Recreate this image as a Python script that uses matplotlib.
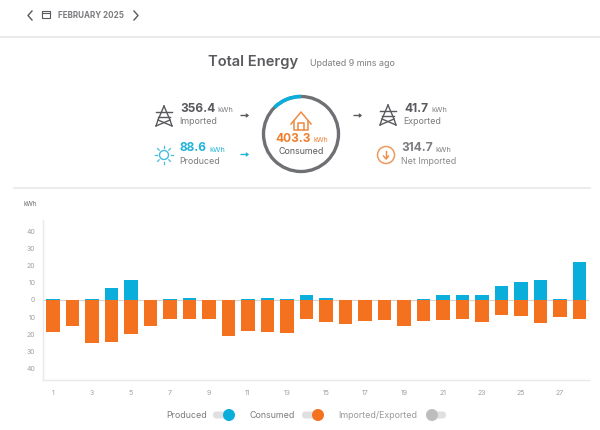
import matplotlib
matplotlib.use('Agg')
import numpy as np
import matplotlib.pyplot as plt
from matplotlib.patches import Arc, Circle, FancyBboxPatch, Rectangle

days = list(range(1, 29))
consumed = [18.9, 15, 25, 24.4, 19.7, 15, 10.9, 11.3, 10.9, 21, 18.3, 18.9, 19.3, 10.9,
            12.7, 14.2, 12.3, 11.7, 15.4, 12.3, 11.7, 11.3, 12.7, 9, 9.4, 13.3, 9.9, 11.3]
produced = [0.3, 0, 0.5, 6.8, 11.7, 0.2, 0.5, 1.2, 0.1, 0, 0.5, 1, 0.3, 2.9,
            1.4, 0, 0, 0, 0, 0.4, 2.9, 2.9, 2.9, 8.4, 10.3, 11.7, 0.6, 22.4]
y_ticks = [-40, -30, -20, -10, 0, 10, 20, 30, 40]
y_labels = ['40', '30', '20', '10', '0', '10', '20', '30', '40']
x_ticks = list(range(1, 28, 2))

BLUE = '#0aaedb'
ORANGE = '#f4711f'
DARK = '#5a5a5e'
GREY = '#7c7c80'
LIGHT = '#e9e9e9'
W, H = 600, 430

plt.rcParams['font.family'] = ['Inter', 'DejaVu Sans']
fig = plt.figure(figsize=(6, 4.3), dpi=100, facecolor='white')

# page layer in pixel coordinates for the header and icons
ui = fig.add_axes([0, 0, 1, 1])
ui.set_xlim(0, W)
ui.set_ylim(H, 0)
ui.axis('off')


def txt(x, y, s, size, color=DARK, weight='normal', ha='left', **kw):
    ui.text(x, y, s, fontsize=size, color=color, fontweight=weight, ha=ha, va='center', **kw)


def pylon(cx, cy, color=DARK):
    # small transmission tower
    lw = 1.0
    ui.plot([cx, cx - 6, cx - 8], [cy - 10, cy + 4, cy + 10], color=color, lw=lw)
    ui.plot([cx, cx + 6, cx + 8], [cy - 10, cy + 4, cy + 10], color=color, lw=lw)
    ui.plot([cx - 8, cx + 8], [cy - 4, cy - 4], color=color, lw=lw)
    ui.plot([cx - 6, cx + 6], [cy + 1, cy + 1], color=color, lw=lw)
    ui.plot([cx - 6, cx + 8], [cy + 4, cy + 10], color=color, lw=lw)
    ui.plot([cx + 6, cx - 8], [cy + 4, cy + 10], color=color, lw=lw)


def arrow(x, y, color):
    ui.annotate('', xy=(x + 8, y), xytext=(x, y),
                arrowprops=dict(arrowstyle='->,head_length=0.12,head_width=0.1', color=color, lw=1.0,
                                shrinkA=0, shrinkB=0))


def toggle(x, y, color, on=True):
    ui.add_patch(FancyBboxPatch((x, y - 3.5), 20, 7, boxstyle='round,pad=0,rounding_size=3.5',
                                fc='#e0e0e0', ec='none'))
    ui.add_patch(Circle((x + 16 if on else x + 6, y), 6, fc=color, ec='none'))


# top navigation
ui.plot([32, 28, 32], [11, 15.5, 20], color=DARK, lw=1.0)
ui.plot([134, 138, 134], [11, 15.5, 20], color=DARK, lw=1.0)
ui.add_patch(Rectangle((41.5, 10.5), 8, 7.5, fc='none', ec=DARK, lw=0.8))
ui.plot([41.5, 49.5], [12.8, 12.8], color=DARK, lw=0.8)
txt(58.5, 15.7, 'FEBRUARY 2025', 5.8, color=GREY, weight='bold')
ui.plot([0, W], [36.5, 36.5], color=LIGHT, lw=1.5)

# title row
txt(208, 62, 'Total Energy', 10.6, color=DARK, weight='semibold')
txt(310, 64, 'Updated 9 mins ago', 6.4, color=GREY)

# left figures
pylon(164, 116)
txt(180, 108.5, '356.4', 8.6, weight='bold')
txt(217, 110, 'kWh', 5.3, color=GREY)
txt(179.5, 121, 'Imported', 6.4, color=GREY)
arrow(241, 115.5, DARK)

ui.add_patch(Circle((164, 155), 4.5, fc='none', ec='#45bedd', lw=1.0))
for a in np.arange(0, 360, 45):
    ca, sa = np.cos(np.radians(a)), np.sin(np.radians(a))
    ui.plot([164 + 6.8 * ca, 164 + 9 * ca], [155 + 6.8 * sa, 155 + 9 * sa], color='#45bedd', lw=0.9)
txt(180, 148, '88.6', 8.6, color='#22b3d9', weight='bold')
txt(209, 149.5, 'kWh', 5.3, color='#22b3d9')
txt(179.5, 161, 'Produced', 6.4, color=GREY)
arrow(241, 154.5, '#22b3d9')

# consumed ring, drawn with y pointing down so the angles run clockwise
ui.add_patch(Circle((301, 134), 37.5, fc='none', ec='#6f7073', lw=2.4))
ui.add_patch(Arc((301, 134), 75, 75, theta1=225, theta2=270, ec=BLUE, lw=2.6))
ui.plot([291, 301, 311], [124, 112, 124], color='#ee8a43', lw=1.1)
ui.plot([294, 294, 308, 308], [121, 130, 130, 121], color='#ee8a43', lw=1.1)
ui.plot([298, 298, 304, 304], [130, 123, 123, 130], color='#ee8a43', lw=1.1)
txt(275, 138.5, '403.3', 8.6, color='#ee7f30', weight='bold')
txt(313, 139.5, 'kWh', 5, color='#ee7f30')
txt(278.5, 151, 'Consumed', 6.4)

# right figures
arrow(354, 115.5, DARK)
pylon(388, 115)
txt(404, 108.5, '41.7', 8.6, weight='bold')
txt(431, 110, 'kWh', 5.3, color=GREY)
txt(403.5, 121, 'Exported', 6.4, color=GREY)
ui.add_patch(Circle((386, 155), 8.5, fc='none', ec='#ee9a5c', lw=1.1))
ui.plot([386, 386], [151, 158], color='#ee8a43', lw=1.0)
ui.plot([383.5, 386, 388.5], [156, 159, 156], color='#ee8a43', lw=1.0)
txt(401, 148, '314.7', 8.6, color=GREY, weight='bold')
txt(435, 149.5, 'kWh', 5.3, color=GREY)
txt(401, 161, 'Net Imported', 6.4, color='#8b8b8f')
ui.plot([14, 590], [187.5, 187.5], color=LIGHT, lw=1.2)

# bar chart
ax = fig.add_axes([43 / W, 1 - 380 / H, (589 - 43) / W, 160 / H])
ax.patch.set_alpha(0)
ax.bar(days, produced, width=0.7, color=BLUE, linewidth=0)
ax.bar(days, [-v for v in consumed], width=0.7, color=ORANGE, linewidth=0)
ax.axhline(0, color='#d5d5d5', lw=0.8, zorder=0)
ax.set_xlim(0.49, 28.49)
ax.set_ylim(-46.8, 46.8)
ax.set_yticks(y_ticks)
ax.set_yticklabels(y_labels)
ax.set_xticks(x_ticks)
ax.tick_params(length=0, labelsize=5, labelcolor='#a0a0a0')
ax.tick_params(axis='x', pad=7)
ax.tick_params(axis='y', pad=5.5)
for s in ['top', 'right']:
    ax.spines[s].set_visible(False)
for s in ['left', 'bottom']:
    ax.spines[s].set_color(LIGHT)
    ax.spines[s].set_linewidth(1)

txt(23, 204.5, 'kWh', 4.6, color='#66666a')

# legend toggles
txt(166, 415, 'Produced', 6.4, color=GREY)
toggle(213, 415, BLUE)
txt(250, 415, 'Consumed', 6.4, color=GREY)
toggle(302, 415, ORANGE)
txt(338, 415, 'Imported/Exported', 6.4, color='#9a9a9e')
toggle(426, 415, '#bdbdbd', on=False)

fig.savefig('out.png', dpi=100)
